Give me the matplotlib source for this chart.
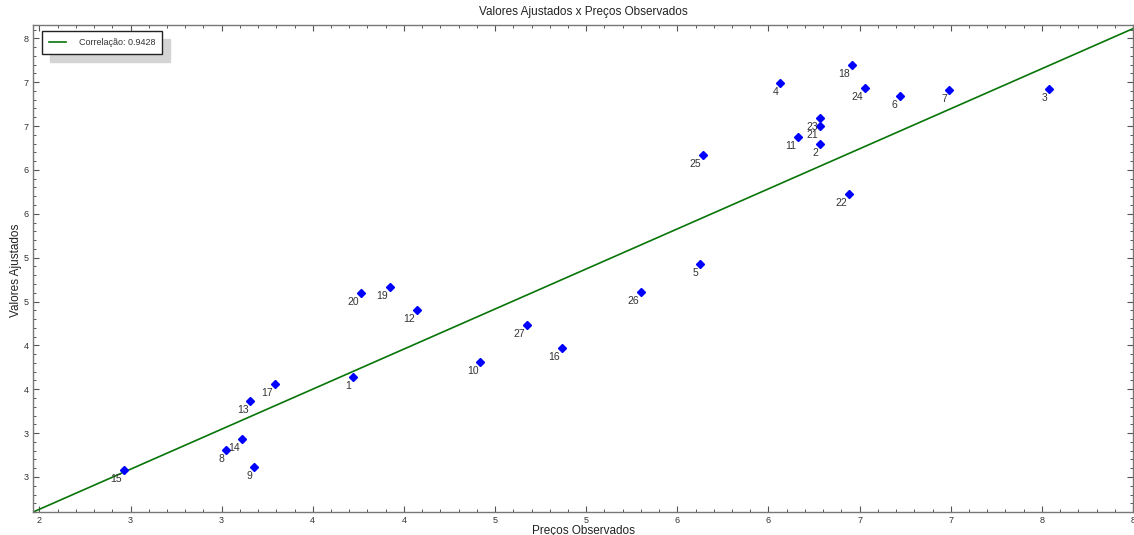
import numpy as np
import matplotlib
matplotlib.use("Agg")
import matplotlib.pyplot as plt
from matplotlib.ticker import MultipleLocator, FuncFormatter

plt.rcParams['font.family'] = ['Liberation Sans', 'DejaVu Sans']

# ---- data ----
ids = list(range(1, 28))
observed = [3.723, 6.283, 7.540, 6.065, 5.624, 6.720, 6.991, 3.026, 3.178, 4.420,
            6.164, 4.073, 3.158, 3.113, 2.465, 4.867, 3.291, 6.458, 3.923, 3.767,
            6.283, 6.443, 6.283, 6.532, 5.639, 5.299, 4.678]
fitted = [3.640, 6.299, 6.919, 6.994, 4.924, 6.839, 6.911, 2.808, 2.614, 3.807,
          6.373, 4.407, 3.363, 2.930, 2.576, 3.970, 3.557, 7.196, 4.665, 4.601,
          6.500, 5.728, 6.588, 6.930, 6.173, 4.608, 4.229]
fit_intercept = 0.306
fit_slope = 0.913
legend_label = "Correlação: 0.9428"
title = "Valores Ajustados x Preços Observados"
xlabel = "Preços Observados"
ylabel = "Valores Ajustados"

W, H = 1134, 535
fig = plt.figure(figsize=(W / 100, H / 100), dpi=100)
ax = fig.add_axes([33 / W, 1 - 512 / H, 1100 / W, 487.5 / H])

xlim = (1.965, 8.0)
ylim = (2.101, 7.657)
ax.set_xlim(*xlim)
ax.set_ylim(*ylim)

xs = np.array(xlim)
ax.plot(xs, fit_intercept + fit_slope * xs, color='#087508', lw=1.2,
        label=legend_label, zorder=2)
ax.plot(observed, fitted, linestyle='none', marker='D', ms=4.2,
        color='#0000ff', mec='#0000ff', zorder=3)
for i, xo, yf in zip(ids, observed, fitted):
    ax.annotate(str(i), (xo, yf), xytext=(-2, -9), textcoords='offset pixels',
                ha='right', va='center', fontsize=7.5, color='#333333', zorder=4)

def rnd(v, pos):
    return str(int(np.floor(v + 0.5 + 1e-9)))

ax.xaxis.set_major_locator(MultipleLocator(0.5))
ax.xaxis.set_minor_locator(MultipleLocator(0.1))
ax.yaxis.set_major_locator(MultipleLocator(0.5))
ax.yaxis.set_minor_locator(MultipleLocator(0.1))
ax.xaxis.set_major_formatter(FuncFormatter(rnd))
ax.yaxis.set_major_formatter(FuncFormatter(rnd))
ax.tick_params(which='both', direction='in', top=True, right=True,
               color='#555555', labelsize=6.5, labelcolor='#333333')
ax.tick_params(which='major', length=4.5, width=0.8, pad=3)
ax.tick_params(which='minor', length=2, width=0.7)
for s in ax.spines.values():
    s.set_color('#777777')
    s.set_linewidth(1.0)

fig.text(583 / W, 1 - 12 / H, title, ha='center', va='center', fontsize=8.5, color='#222222')
fig.text(583 / W, 1 - 531 / H, xlabel, ha='center', va='center', fontsize=8.5, color='#222222')
fig.text(16 / W, 1 - 270 / H, ylabel, ha='center', va='center', rotation=90,
         fontsize=8.5, color='#222222')

leg = ax.legend(loc='upper left', bbox_to_anchor=(9 / 1100, 1 - 6.5 / 487.5),
                borderaxespad=0, fancybox=False, fontsize=6.5,
                handlelength=1.9, handletextpad=1.4, borderpad=0.75,
                shadow={'ox': 6, 'oy': -6, 'color': '#d4d4d4', 'alpha': 1})
leg.get_frame().set_edgecolor('#222222')
leg.get_frame().set_linewidth(1.0)
for t in leg.get_texts():
    t.set_color('#333333')

fig.savefig('out.png', dpi=100)
